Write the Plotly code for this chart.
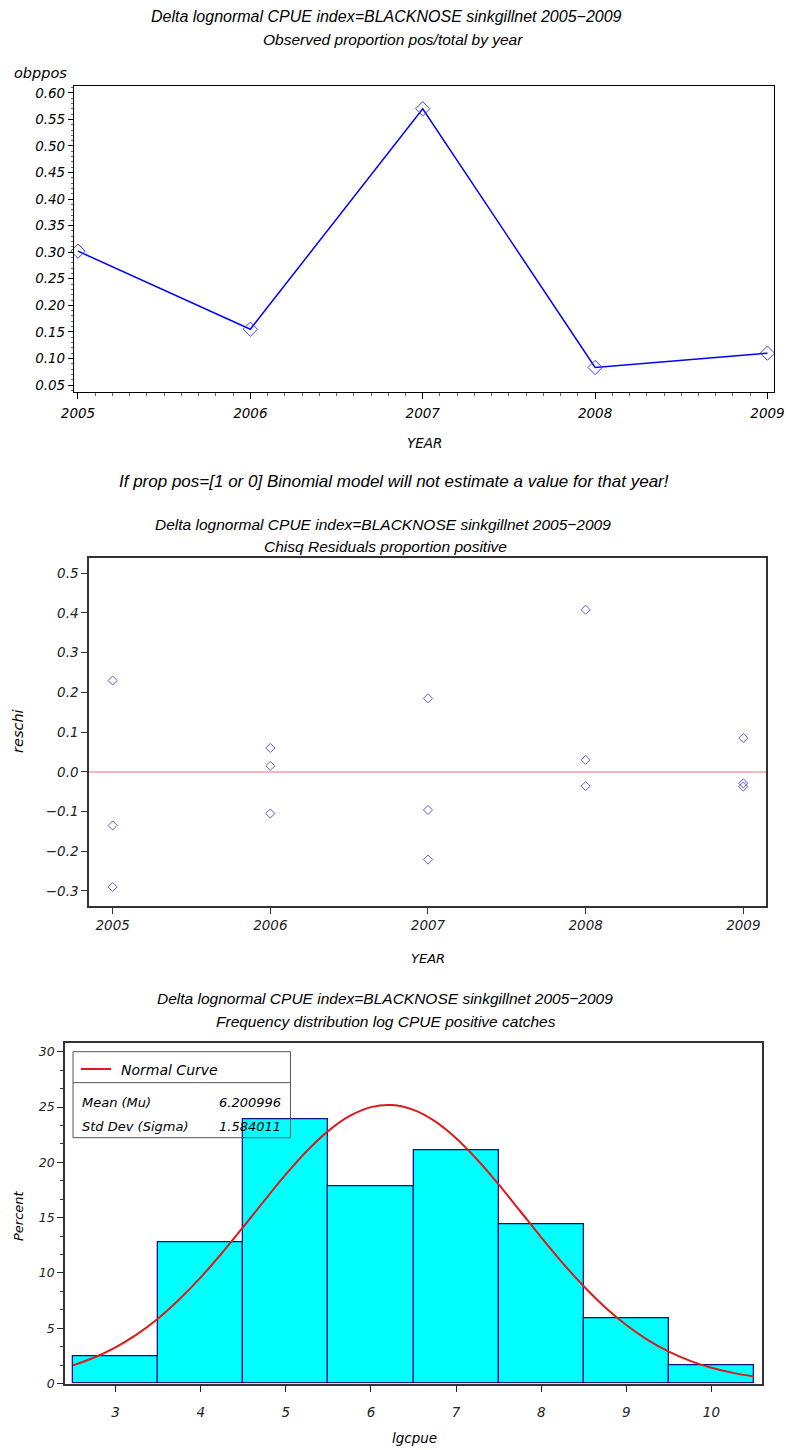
import plotly.graph_objects as go

W, H = 786, 1450

# ---------------- data ----------------
years = [2005, 2006, 2007, 2008, 2009]
obppos = [0.302, 0.155, 0.570, 0.083, 0.110]

res_year = [2005, 2005, 2005, 2006, 2006, 2006, 2007, 2007, 2007,
            2008, 2008, 2008, 2009, 2009, 2009]
reschi = [0.230, -0.135, -0.290, 0.060, 0.015, -0.105, 0.185, -0.096, -0.221,
          0.408, 0.030, -0.036, 0.085, -0.029, -0.037]

bin_mid = [3, 4, 5, 6, 7, 8, 9, 10]
percent = [2.49, 12.73, 23.85, 17.83, 21.08, 14.44, 5.92, 1.65]

curve_x = [2.5, 2.75, 3.0, 3.25, 3.5, 3.75, 4.0, 4.25, 4.5, 4.75, 5.0, 5.25,
           5.5, 5.75, 6.0, 6.25, 6.5, 6.75, 7.0, 7.25, 7.5, 7.75, 8.0, 8.25,
           8.5, 8.75, 9.0, 9.25, 9.5, 9.75, 10.0, 10.25, 10.5]
curve_y = [1.64, 2.35, 3.27, 4.44, 5.88, 7.61, 9.59, 11.80, 14.15, 16.56, 18.90,
           21.04, 22.84, 24.19, 24.99, 25.18, 24.74, 23.72, 22.18, 20.23, 18.00,
           15.62, 13.22, 10.91, 8.79, 6.90, 5.29, 3.95, 2.88, 2.05, 1.42, 0.96, 0.63]

mean_txt = "6.200996"
sd_txt = "1.584011"

TFONT = "Liberation Sans, Arial, sans-serif"
FONT = "DejaVu Sans, Verdana, sans-serif"


def px(x):
    return x / W


def py(y):
    return 1 - y / H


fig = go.Figure()

# top: observed proportion
fig.add_trace(go.Scatter(
    x=years, y=obppos, mode="lines+markers", xaxis="x", yaxis="y",
    line=dict(color="#0000ff", width=1.5), cliponaxis=False,
    marker=dict(symbol="diamond-open", size=11, color="#3c3cf0", line=dict(width=1)),
    showlegend=False))

# middle: residuals
fig.add_trace(go.Scatter(
    x=res_year, y=reschi, mode="markers", xaxis="x2", yaxis="y2",
    marker=dict(symbol="diamond-open", size=7, color="#5a5ad2", line=dict(width=1)),
    showlegend=False))

# bottom: histogram
fig.add_trace(go.Bar(
    x=bin_mid, y=percent, width=1, xaxis="x3", yaxis="y3",
    marker=dict(color="#00ffff", line=dict(color="#10108a", width=1.3)),
    showlegend=False))
fig.add_trace(go.Scatter(
    x=curve_x, y=curve_y, mode="lines", line_shape="spline", xaxis="x3", yaxis="y3",
    line=dict(color="#dd1a1a", width=2), showlegend=False))

tickfont = dict(family=FONT, size=13.5, color="#000", style="italic")
tickfont2 = dict(family=FONT, size=13.5, color="#222", style="italic")
tickfont3 = dict(family=FONT, size=12.5, color="#222", style="italic")
tickfont3x = dict(family=FONT, size=13.5, color="#222", style="italic")

fig.update_layout(
    width=W, height=H, autosize=False,
    margin=dict(l=0, r=0, t=0, b=0),
    paper_bgcolor="white", plot_bgcolor="white",
    font=dict(family=FONT, color="#000"),
    bargap=0,
    xaxis=dict(domain=[px(74), px(773.5)], range=[2004.977, 2009.035], automargin=False,
               tickvals=years, ticktext=[str(v) for v in years],
               ticks="outside", ticklen=6, tickcolor="#000", showgrid=False,
               zeroline=False, showline=True, linecolor="#000", linewidth=1.2, mirror=True,
               tickfont=tickfont, anchor="y", ticklabelstandoff=3,
               minor=dict(dtick=0.1, tick0=2005, ticks="outside", ticklen=3, tickcolor="#666", showgrid=False)),
    yaxis=dict(domain=[py(391.7), py(85.5)], range=[0.0374, 0.6138], automargin=False,
               tickvals=[0.05 * i for i in range(1, 13)],
               ticktext=["%.2f" % (0.05 * i) for i in range(1, 13)],
               ticks="outside", ticklen=5, tickcolor="#000", showgrid=False,
               zeroline=False, showline=True, linecolor="#000", linewidth=1.2, mirror=True,
               tickfont=tickfont, anchor="x",
               minor=dict(dtick=0.01, tick0=0, ticks="outside", ticklen=2, tickcolor="#666", showgrid=False)),
    xaxis2=dict(domain=[px(89), px(765.7)], range=[2004.85, 2009.142], automargin=False,
                tickvals=years, ticks="outside", ticklen=6, tickcolor="#333",
                showgrid=False, zeroline=False, showline=True, linecolor="#333",
                linewidth=1.5, mirror=True, tickfont=tickfont2, anchor="y2"),
    yaxis2=dict(domain=[py(906), py(557.7)], range=[-0.3378, 0.539], automargin=False,
                tickvals=[-0.3, -0.2, -0.1, 0.0, 0.1, 0.2, 0.3, 0.4, 0.5],
                ticktext=["\u22120.3", "\u22120.2", "\u22120.1", "0.0", "0.1", "0.2", "0.3", "0.4", "0.5"],
                ticks="outside", ticklen=6, tickcolor="#333",
                showgrid=False, zeroline=True, zerolinecolor="#f2b8c0", zerolinewidth=2,
                showline=True, linecolor="#333", linewidth=1.5, mirror=True,
                tickfont=tickfont2, anchor="x2"),
    xaxis3=dict(domain=[px(65), px(762)], range=[2.406, 10.594], automargin=False,
                tickvals=bin_mid, ticks="outside", ticklen=7, tickcolor="#222",
                showgrid=False, zeroline=False, showline=True, linecolor="#333",
                linewidth=1.5, mirror=True, tickfont=tickfont3x, anchor="y3",
                ticklabelstandoff=9),
    yaxis3=dict(domain=[py(1383.5), py(1043.3)], range=[0, 30.76], automargin=False,
                tickvals=[0, 5, 10, 15, 20, 25, 30], ticks="outside", ticklen=6,
                tickcolor="#222", showgrid=False, zeroline=False, showline=True,
                linecolor="#333", linewidth=1.5, mirror=True, tickfont=tickfont3,
                anchor="x3",
                minor=dict(dtick=5 / 3, tick0=0, ticks="outside", ticklen=3, tickcolor="#333", showgrid=False)),
)


def ann(text, x, y, size=14, xanchor="center", textangle=0, color="#000", family=FONT):
    fig.add_annotation(text=text, x=px(x), y=py(y), xref="paper", yref="paper",
                       xanchor=xanchor, yanchor="middle", showarrow=False,
                       textangle=textangle,
                       font=dict(family=family, size=size, color=color, style="italic"))


t1 = "Delta lognormal CPUE index=BLACKNOSE sinkgillnet 2005\u22122009"
# top
ann(t1, 386, 16, 16, family=TFONT)
ann("Observed proportion pos/total by year", 393, 39, 15.5, family=TFONT)
ann("obppos", 12, 73, 14.5, xanchor="left")
ann("YEAR", 424, 443, 13.5)
ann("If prop pos=[1 or 0] Binomial model will not estimate a value for that year!",
    394, 481, 17, family=TFONT)
# middle
ann(t1, 383, 525, 15.5, family=TFONT)
ann("Chisq Residuals proportion positive", 385, 546, 15.5, family=TFONT)
ann("reschi", 18, 731, 14.5, textangle=-90)
ann("YEAR", 428, 958, 13)
# bottom
ann(t1, 385, 998, 15.5, family=TFONT)
ann("Frequency distribution log CPUE positive catches", 386, 1021, 15.5, family=TFONT)
ann("Percent", 18, 1216, 13, textangle=-90)
ann("lgcpue", 414, 1438, 13.5)

# legend / inset box in histogram
fig.add_shape(type="rect", xref="paper", yref="paper",
              x0=px(73), x1=px(290.5), y0=py(1137.7), y1=py(1051.7),
              line=dict(color="#555", width=1), fillcolor="rgba(0,0,0,0)")
fig.add_shape(type="line", xref="paper", yref="paper",
              x0=px(73), x1=px(290.5), y0=py(1082.7), y1=py(1082.7),
              line=dict(color="#555", width=1))
fig.add_shape(type="line", xref="paper", yref="paper",
              x0=px(81), x1=px(111), y0=py(1069), y1=py(1069),
              line=dict(color="#dd1a1a", width=2))
ann("Normal Curve", 119, 1070, 14, xanchor="left")
ann("Mean (Mu)", 80, 1102, 13, xanchor="left")
ann(mean_txt, 283, 1102, 13, xanchor="right")
ann("Std Dev (Sigma)", 80, 1126, 13, xanchor="left")
ann(sd_txt, 283, 1126, 13, xanchor="right")

fig.write_html("out.html")
